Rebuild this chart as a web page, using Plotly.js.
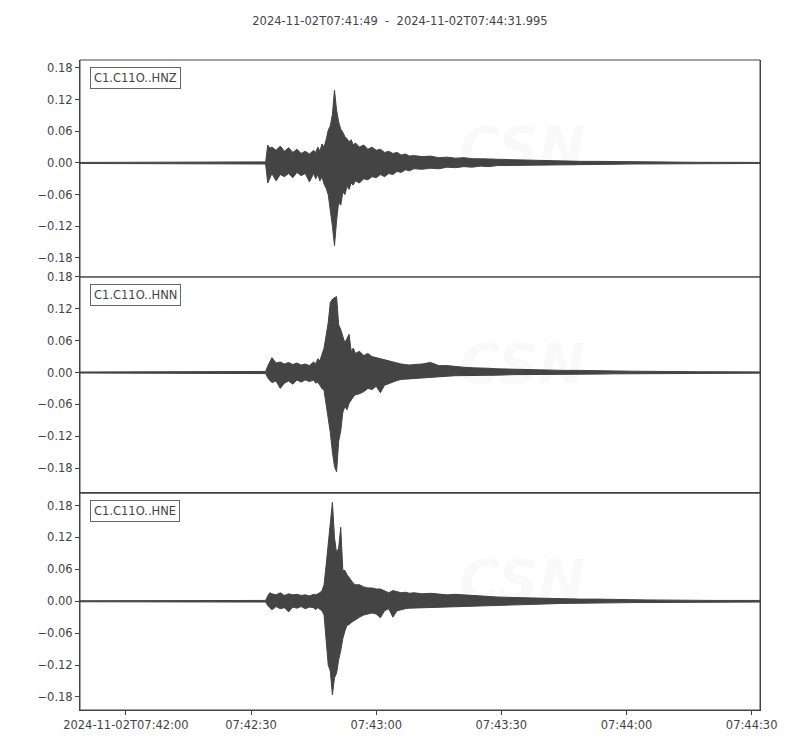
<!DOCTYPE html>
<html>
<head>
<meta charset="utf-8">
<script src="https://cdn.plot.ly/plotly-3.0.1.min.js"></script>
<style>
  body { margin: 0; background: #fff; }
  #myPlot { width: 800px; height: 750px; }
</style>
</head>
<body>
<div id="myPlot"></div>
<script>
// seconds after 2024-11-02T07:41:49
const secs = [0, 44.5, 45, 45.5, 46, 47, 48, 49, 50, 51, 52, 53, 54, 55, 56,
  56.5, 57, 57.5, 58, 58.5, 59, 59.5, 60, 60.5, 61, 61.5, 62, 62.5, 63, 63.5, 64, 64.5, 65, 65.5, 66,
  67, 68, 69, 70, 71, 72, 73, 74, 75, 76, 77, 78, 79, 80,
  82, 84, 86, 88, 90, 92, 94, 96, 98, 100,
  104, 108, 112, 116, 120, 124, 128, 132, 136, 140, 144, 148, 152, 156, 160, 162.995];

const channels = ["C1.C11O..HNZ", "C1.C11O..HNN", "C1.C11O..HNE"];

// envelope (max / min per sample window)
const hnzMax = [0.001, 0.002, 0.034, 0.028, 0.030, 0.024, 0.032, 0.022, 0.029, 0.020, 0.026, 0.018, 0.022, 0.017, 0.024,
  0.020, 0.030, 0.022, 0.036, 0.030, 0.044, 0.062, 0.070, 0.092, 0.138, 0.100, 0.078, 0.064, 0.058, 0.050, 0.046, 0.040, 0.044, 0.034, 0.038,
  0.030, 0.034, 0.026, 0.030, 0.024, 0.026, 0.020, 0.022, 0.018, 0.020, 0.015, 0.017, 0.013, 0.014,
  0.012, 0.013, 0.010, 0.011, 0.009, 0.010, 0.008, 0.008, 0.007, 0.007,
  0.006, 0.005, 0.004, 0.004, 0.003, 0.003, 0.0025, 0.002, 0.002, 0.0015, 0.0015, 0.0012, 0.0012, 0.001, 0.001, 0.001];
const hnzMin = [-0.001, -0.002, -0.038, -0.030, -0.020, -0.034, -0.022, -0.026, -0.020, -0.028, -0.018, -0.024, -0.020, -0.036, -0.020,
  -0.030, -0.022, -0.034, -0.026, -0.040, -0.048, -0.060, -0.090, -0.120, -0.157, -0.110, -0.074, -0.080, -0.055, -0.060, -0.044, -0.050, -0.038, -0.042, -0.034,
  -0.038, -0.030, -0.032, -0.026, -0.028, -0.022, -0.026, -0.020, -0.022, -0.016, -0.018, -0.013, -0.015, -0.011,
  -0.012, -0.010, -0.011, -0.008, -0.009, -0.007, -0.008, -0.006, -0.007, -0.005,
  -0.005, -0.005, -0.004, -0.003, -0.003, -0.003, -0.0025, -0.002, -0.002, -0.0015, -0.0015, -0.0012, -0.0012, -0.001, -0.001, -0.001];

const hnnMax = [0.001, 0.002, 0.012, 0.020, 0.028, 0.018, 0.020, 0.016, 0.019, 0.015, 0.018, 0.014, 0.016, 0.013, 0.020,
  0.016, 0.026, 0.022, 0.034, 0.046, 0.070, 0.094, 0.132, 0.138, 0.141, 0.143, 0.090, 0.081, 0.068, 0.056, 0.064, 0.072, 0.040, 0.046, 0.036,
  0.040, 0.032, 0.036, 0.030, 0.028, 0.026, 0.024, 0.022, 0.019, 0.017, 0.016, 0.015, 0.014, 0.015,
  0.016, 0.019, 0.013, 0.013, 0.011, 0.010, 0.009, 0.009, 0.008, 0.007,
  0.006, 0.005, 0.005, 0.004, 0.004, 0.003, 0.003, 0.0025, 0.002, 0.002, 0.002, 0.0015, 0.0015, 0.0015, 0.0012, 0.0012];
const hnnMin = [-0.001, -0.002, -0.010, -0.015, -0.019, -0.016, -0.030, -0.020, -0.016, -0.022, -0.014, -0.018, -0.014, -0.017, -0.014,
  -0.020, -0.018, -0.024, -0.030, -0.034, -0.060, -0.085, -0.113, -0.150, -0.177, -0.187, -0.130, -0.110, -0.075, -0.064, -0.070, -0.058, -0.052, -0.046, -0.042,
  -0.040, -0.036, -0.030, -0.032, -0.026, -0.038, -0.024, -0.022, -0.018, -0.015, -0.013, -0.012, -0.011, -0.011,
  -0.010, -0.009, -0.008, -0.007, -0.006, -0.006, -0.006, -0.005, -0.005, -0.005,
  -0.004, -0.004, -0.004, -0.003, -0.003, -0.003, -0.0025, -0.002, -0.002, -0.002, -0.0015, -0.0015, -0.0015, -0.0012, -0.0012, -0.0012];

const hneMax = [0.001, 0.0015, 0.010, 0.016, 0.014, 0.012, 0.016, 0.011, 0.014, 0.012, 0.013, 0.011, 0.012, 0.010, 0.013,
  0.012, 0.014, 0.016, 0.020, 0.031, 0.068, 0.106, 0.144, 0.186, 0.120, 0.091, 0.100, 0.139, 0.058, 0.058, 0.050, 0.044, 0.040, 0.034, 0.031,
  0.031, 0.027, 0.025, 0.025, 0.023, 0.023, 0.020, 0.016, 0.020, 0.018, 0.016, 0.017, 0.015, 0.016,
  0.014, 0.015, 0.013, 0.012, 0.013, 0.012, 0.010, 0.009, 0.009, 0.008,
  0.007, 0.006, 0.005, 0.005, 0.004, 0.004, 0.003, 0.003, 0.0025, 0.002, 0.002, 0.0015, 0.0015, 0.0015, 0.0015, 0.0015];
const hneMin = [-0.001, -0.0015, -0.008, -0.012, -0.016, -0.010, -0.014, -0.012, -0.020, -0.011, -0.013, -0.010, -0.014, -0.011, -0.012,
  -0.016, -0.012, -0.014, -0.018, -0.026, -0.070, -0.120, -0.131, -0.176, -0.144, -0.135, -0.110, -0.093, -0.070, -0.056, -0.045, -0.044, -0.040, -0.036, -0.035,
  -0.030, -0.026, -0.024, -0.022, -0.024, -0.031, -0.018, -0.014, -0.030, -0.018, -0.016, -0.014, -0.013, -0.013,
  -0.012, -0.011, -0.011, -0.010, -0.010, -0.009, -0.009, -0.008, -0.008, -0.007,
  -0.007, -0.006, -0.005, -0.004, -0.004, -0.003, -0.003, -0.0025, -0.002, -0.002, -0.002, -0.0015, -0.0015, -0.0015, -0.0015, -0.0015];

const yTicks = [-0.18, -0.12, -0.06, 0, 0.06, 0.12, 0.18];
const yTickText = ["\u22120.18", "\u22120.12", "\u22120.06", "0.00", "0.06", "0.12", "0.18"];
const xTicks = ["2024-11-02 07:42:00", "2024-11-02 07:42:30", "2024-11-02 07:43:00",
  "2024-11-02 07:43:30", "2024-11-02 07:44:00", "2024-11-02 07:44:30"];
const xTickText = ["2024-11-02T07:42:00", "07:42:30", "07:43:00", "07:43:30", "07:44:00", "07:44:30"];

const t0 = Date.UTC(2024, 10, 2, 7, 41, 49);
function stamp(s) {
    return new Date(t0 + s * 1000).toISOString().replace("T", " ").replace("Z", "");
}

const grey = "#444444";
const font = "DejaVu Sans, sans-serif";
const faint = "rgba(0,0,0,0.022)";
const envelopes = [[hnzMax, hnzMin], [hnnMax, hnnMin], [hneMax, hneMin]];
const yRanges = [[-0.216, 0.195], [-0.227, 0.18], [-0.2045, 0.2035]];
const domains = [[0.6662, 1], [0.3338, 0.6662], [0, 0.3338]];

const times = secs.map(stamp);
const data = [];
envelopes.forEach(function (env, i) {
    // outline: forward along the max, back along the min
    const xs = times.concat(times.slice().reverse());
    const ys = env[0].concat(env[1].slice().reverse());
    data.push({
        x: xs, y: ys,
        xaxis: "x", yaxis: i == 0 ? "y" : "y" + (i + 1),
        mode: "lines", fill: "toself", fillcolor: grey,
        line: {color: grey, width: 1},
        hoverinfo: "skip", showlegend: false
    });
});

const layout = {
    width: 800, height: 750,
    margin: {l: 80, r: 40, t: 60, b: 40},
    paper_bgcolor: "#fff", plot_bgcolor: "#fff",
    font: {family: font, size: 11.5, color: grey},
    title: {
        text: "2024-11-02T07:41:49\u00a0\u00a0-\u00a0\u00a02024-11-02T07:44:31.995",
        x: 0.5, xanchor: "center", y: 0.972, yanchor: "middle",
        font: {family: font, size: 11.5, color: grey}
    },
    showlegend: false,
    xaxis: {
        type: "date", anchor: "y3",
        range: ["2024-11-02 07:41:49", "2024-11-02 07:44:31.995"],
        tickmode: "array", tickvals: xTicks, ticktext: xTickText,
        ticks: "outside", ticklen: 4, tickcolor: grey,
        showline: true, linecolor: grey, linewidth: 1, mirror: true,
        showgrid: false, zeroline: false
    },
    annotations: [],
    shapes: []
};

const axisNames = ["yaxis", "yaxis2", "yaxis3"];
axisNames.forEach(function (name, i) {
    layout[name] = {
        domain: domains[i], range: yRanges[i],
        tickmode: "array", tickvals: yTicks, ticktext: yTickText,
        ticks: "outside", ticklen: 4, tickcolor: grey,
        showline: true, linecolor: grey, linewidth: 1, mirror: true,
        showgrid: false, zeroline: false
    };
    const yref = i == 0 ? "y domain" : "y" + (i + 1) + " domain";
    // frame for the upper panels (x axis only draws on the bottom one)
    layout.shapes.push({
        type: "rect", xref: "paper", yref: yref, x0: 0, x1: 1, y0: 0, y1: 1,
        line: {color: grey, width: 1}
    });
    layout.annotations.push({
        text: channels[i], xref: "paper", yref: yref,
        x: 10 / 680, y: 1 - 7 / 217, xanchor: "left", yanchor: "top",
        showarrow: false, font: {family: font, size: 11.5, color: grey},
        bordercolor: "#666", borderwidth: 1, borderpad: 3, bgcolor: "#fff"
    });
    // faint CSN watermark
    layout.annotations.push({
        text: "<b><i>CSN</i></b>", xref: "paper", yref: yref,
        x: 0.555, y: 0.6, xanchor: "left", yanchor: "middle",
        showarrow: false, font: {family: font, size: 56, color: faint}
    });
    layout.annotations.push({
        text: "<i>CENTRO SISMOLÓGICO NACIONAL<br>UNIVERSIDAD DE CHILE</i>", xref: "paper", yref: yref,
        x: 0.66, y: 0.2, xanchor: "left", yanchor: "middle", align: "left",
        showarrow: false, font: {family: "Liberation Sans Narrow, Liberation Sans, sans-serif", size: 14, color: faint}
    });
});

Plotly.newPlot("myPlot", data, layout, {displaylogo: false, displayModeBar: false, staticPlot: true});
</script>
</body>
</html>
